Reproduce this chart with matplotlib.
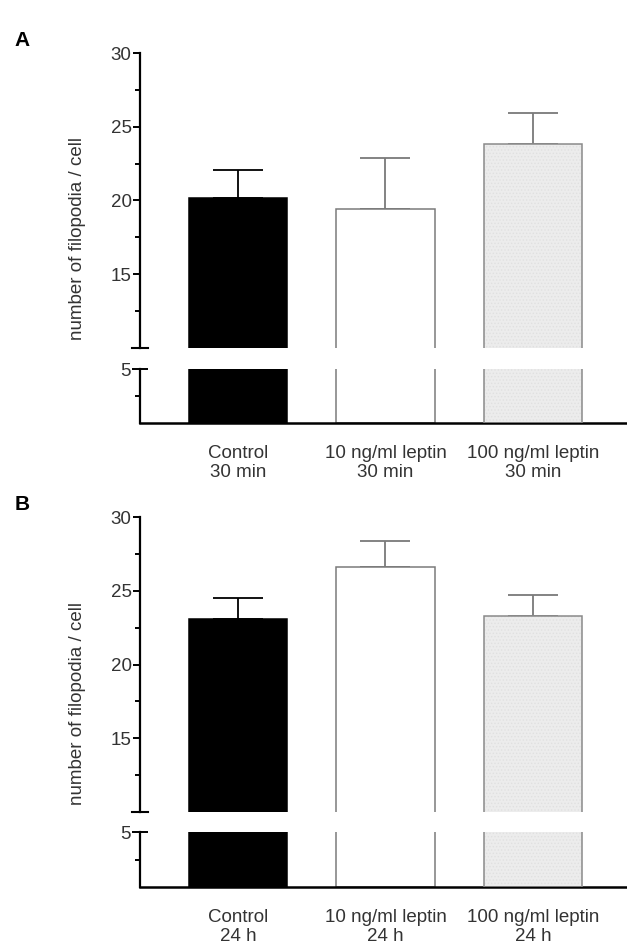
import numpy as np
import matplotlib
matplotlib.use('Agg')
import matplotlib.pyplot as plt

plt.rcParams['font.family'] = ['Liberation Sans', 'DejaVu Sans']
plt.rcParams['hatch.linewidth'] = 0.6

labels_a = ['Control\n30 min', '10 ng/ml leptin\n30 min', '100 ng/ml leptin\n30 min']
means_a = [20.2, 19.4, 23.8]
errs_a = [1.9, 3.5, 2.1]

labels_b = ['Control\n24 h', '10 ng/ml leptin\n24 h', '100 ng/ml leptin\n24 h']
means_b = [23.1, 26.6, 23.3]
errs_b = [1.4, 1.8, 1.4]

face = ['black', 'white', '#ececec']
edge = ['black', '#7a7a7a', '#8a8a8a']
errc = ['black', '#7a7a7a', '#7a7a7a']
hatch = [None, None, '.....']

txt = '#333333'
W, H = 627, 947
fig = plt.figure(figsize=(W / 100, H / 100), dpi=100)


def fx(px):
    return px / W


def fy(px):
    return 1 - px / H


def panel(top, brk_top, brk_bot, base, letter, labels, means, errs):
    x = np.arange(len(means))
    left = fx(140)
    width = 1 - left
    ax_up = fig.add_axes([left, fy(brk_top), width, fy(top) - fy(brk_top)])
    ax_lo = fig.add_axes([left, fy(base), width, fy(brk_bot) - fy(base)])

    for ax in (ax_up, ax_lo):
        for i in x:
            ax.bar(i, means[i], width=0.665, color=face[i], edgecolor='#e0e0e0' if hatch[i] else edge[i],
                   hatch=hatch[i], linewidth=0 if hatch[i] else 1.1, zorder=2)
            if hatch[i]:
                ax.bar(i, means[i], width=0.665, fill=False, edgecolor=edge[i], linewidth=1.1, zorder=3)
        ax.set_xlim(-0.664, 2.637)
        ax.spines['top'].set_visible(False)
        ax.spines['right'].set_visible(False)
        ax.spines['left'].set_linewidth(1.6)
        ax.tick_params(axis='y', which='major', length=5, width=1.4, pad=1,
                       labelsize=13.5, labelcolor=txt)
        ax.tick_params(axis='y', which='minor', length=3.5, width=1.4)

    for i in x:
        ax_up.errorbar(i, means[i], yerr=[[0], [errs[i]]], fmt='none', ecolor=errc[i],
                       elinewidth=1.3, capsize=18, capthick=1.3, zorder=1)

    ax_up.set_ylim(10, 30)
    ax_up.set_yticks([15, 20, 25, 30])
    ax_up.set_yticks([12.5, 17.5, 22.5, 27.5], minor=True)
    ax_up.spines['bottom'].set_visible(False)
    ax_up.set_xticks([])
    ax_up.plot([-0.0164, 0.0164], [0, 0], transform=ax_up.transAxes, color='black',
               lw=1.5, clip_on=False)

    ax_lo.set_ylim(0, 5)
    ax_lo.set_yticks([5])
    ax_lo.set_yticks([2.5], minor=True)
    ax_lo.tick_params(axis='y', which='major', direction='inout', length=11)
    ax_lo.spines['bottom'].set_linewidth(1.8)
    ax_lo.set_xticks(x)
    ax_lo.set_xticklabels(labels, fontsize=13.5, color=txt, linespacing=1.15)
    ax_lo.tick_params(axis='x', length=0, pad=16)

    fig.text(fx(22), fy(top - 12), letter, fontsize=15, fontweight='bold',
             ha='center', va='center')
    fig.text(fx(78), fy((top + base) / 2 + 1), 'number of filopodia / cell', rotation=90,
             fontsize=13.5, color=txt, ha='center', va='center')


panel(53, 348, 369, 423, 'A', labels_a, means_a, errs_a)
panel(517, 812, 832, 887, 'B', labels_b, means_b, errs_b)

fig.savefig('out.png', dpi=100)
